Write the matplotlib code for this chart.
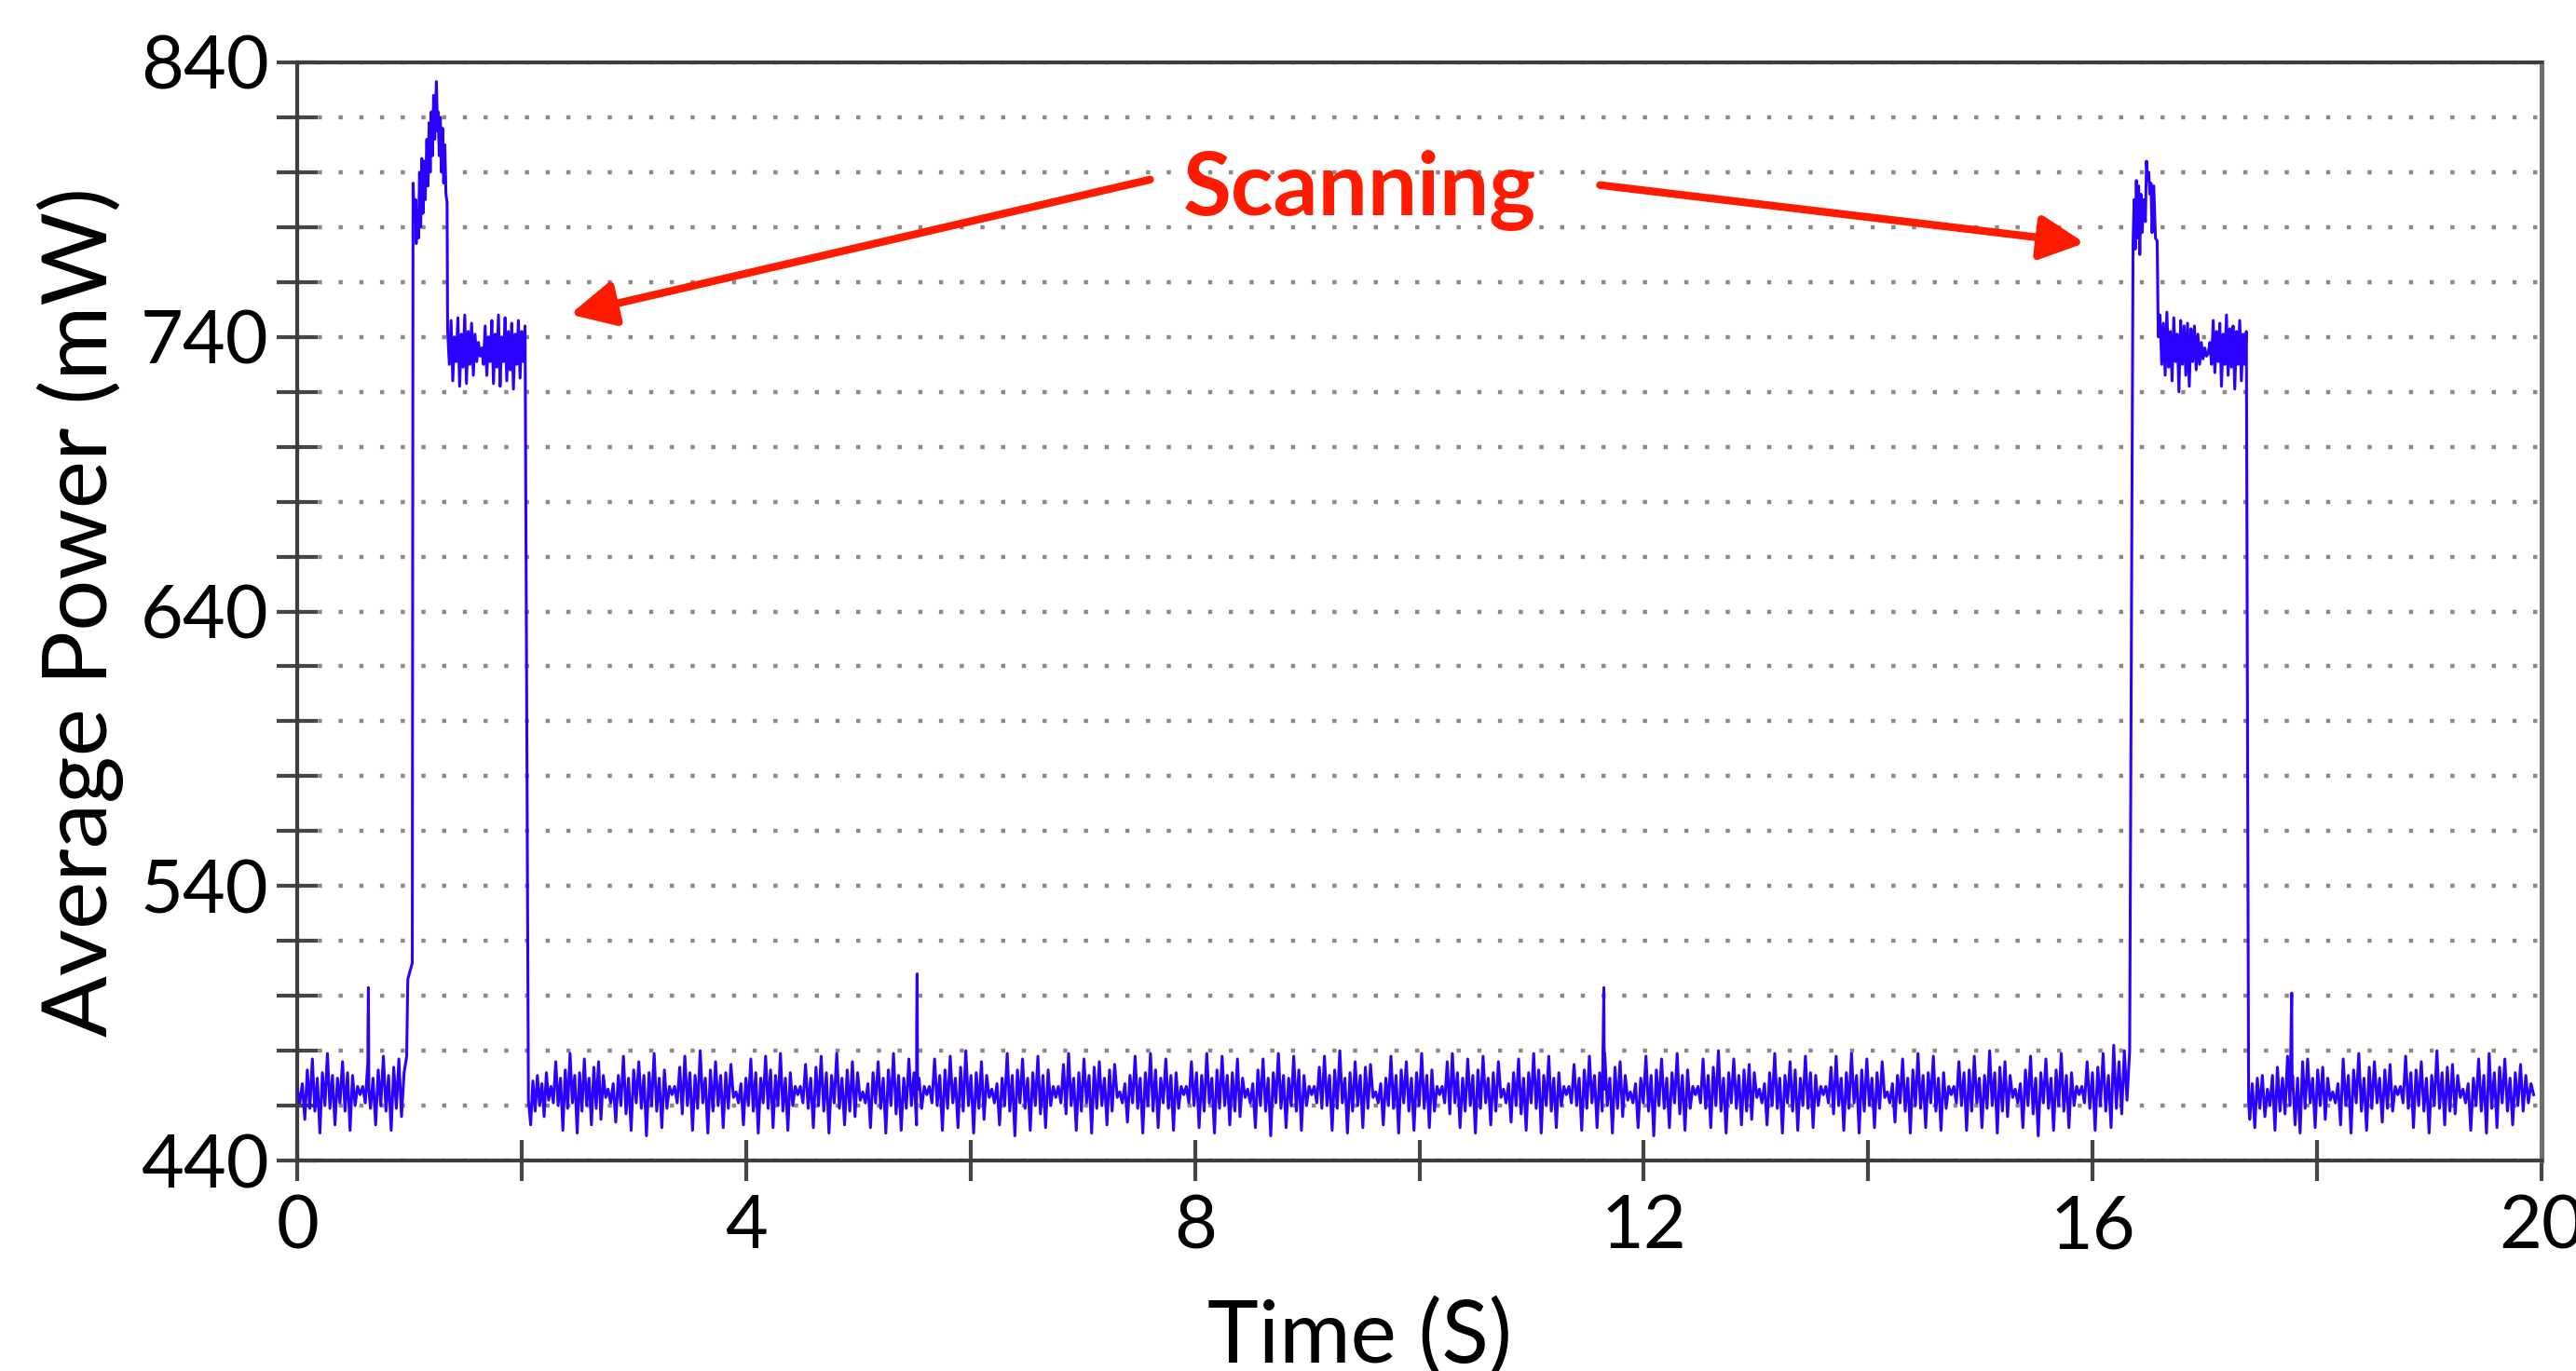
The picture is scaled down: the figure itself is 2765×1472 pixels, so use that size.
import numpy as np
import matplotlib
matplotlib.use("Agg")
import matplotlib.pyplot as plt

plt.rcParams['font.family'] = ['Lato', 'DejaVu Sans']

# ---- values ----
x_major = [0, 4, 8, 12, 16, 20]
x_minor = [2, 6, 10, 14, 18]
y_major = [440, 540, 640, 740, 840]
y_minor = [460, 480, 500, 520, 560, 580, 600, 620, 660, 680, 700, 720,
           760, 780, 800, 820]

# ripple bursts (and the two scanning plateaus): start s, end s, samples mW
burst_start = [0.00, 0.56, 1.34, 1.63, 2.08, 2.24, 2.77, 3.34, 3.91, 4.46,
               5.04, 5.61, 6.19, 6.76, 7.33, 7.90, 8.47, 9.04, 9.61, 10.18,
               10.75, 11.31, 11.88, 12.46, 13.03, 13.60, 14.17, 14.74, 15.31,
               15.88, 16.585, 17.03, 17.40, 17.58, 18.14, 18.72, 19.30]
burst_end = [0.56, 0.975, 1.63, 2.03, 2.24, 2.77, 3.34, 3.91, 4.46, 5.04,
             5.61, 6.19, 6.76, 7.33, 7.90, 8.47, 9.04, 9.61, 10.18, 10.75,
             11.31, 11.88, 12.46, 13.03, 13.60, 14.17, 14.74, 15.31, 15.88,
             16.33, 17.03, 17.37, 17.58, 18.14, 18.72, 19.30, 19.93]
burst_vals = [
    [466, 461, 468, 455, 473, 459, 477, 458, 470, 450, 472, 460, 479, 459, 471, 453, 470, 461, 476, 458, 472, 451, 471, 460, 467, 464],
    [464, 467, 461, 476, 459, 470, 453, 473, 460, 478, 458, 471, 451, 474, 459, 477, 456, 472, 478],
    [742, 730, 746, 724, 740, 731, 747, 722, 741, 729, 748, 723, 742, 730, 745, 726, 741, 731, 738, 733],
    [733, 736, 730, 744, 726, 740, 731, 746, 723, 741, 729, 748, 722, 740, 731, 747, 724, 742, 728, 745, 721, 741, 730, 746, 725, 742, 731, 744],
    [453, 469, 458, 471, 460, 468, 456, 472, 462],
    [462, 467, 461, 476, 460, 470, 451, 473, 459, 479, 461, 471, 450, 472, 458, 477, 460, 470, 453, 474, 459, 476, 455, 471, 463, 466],
    [466, 461, 468, 454, 471, 460, 478, 457, 470, 451, 473, 461, 476, 459, 471, 449, 472, 460, 479, 458, 470, 452, 473, 459, 467, 464],
    [464, 467, 461, 474, 457, 478, 460, 472, 451, 471, 459, 480, 461, 470, 450, 473, 458, 476, 460, 471, 452, 472, 459, 475, 463, 465],
    [465, 461, 468, 453, 470, 460, 477, 458, 472, 450, 470, 461, 478, 459, 473, 452, 471, 460, 479, 458, 470, 451, 472, 460, 467, 464],
    [464, 467, 461, 475, 459, 470, 452, 474, 460, 478, 458, 472, 450, 471, 461, 479, 459, 470, 453, 473, 458, 476, 456, 472, 462, 465],
    [465, 461, 468, 452, 472, 461, 476, 459, 470, 450, 473, 460, 479, 457, 471, 451, 470, 459, 477, 460, 472, 453, 470, 459, 467, 464],
    [464, 467, 461, 477, 460, 471, 451, 473, 459, 478, 461, 470, 452, 474, 458, 480, 460, 471, 450, 472, 459, 476, 455, 471, 463, 466],
    [466, 461, 468, 453, 470, 460, 479, 458, 471, 449, 473, 461, 477, 459, 470, 451, 472, 460, 478, 457, 471, 452, 473, 460, 467, 463],
    [463, 467, 461, 475, 457, 479, 460, 470, 451, 472, 458, 477, 461, 471, 450, 474, 459, 476, 460, 470, 453, 473, 458, 475, 463, 465],
    [465, 461, 468, 454, 471, 461, 478, 459, 470, 450, 472, 460, 479, 458, 473, 452, 470, 461, 477, 459, 471, 451, 472, 459, 467, 464],
    [464, 467, 461, 476, 460, 472, 452, 471, 458, 479, 461, 470, 450, 473, 459, 478, 460, 471, 453, 472, 458, 477, 456, 470, 463, 466],
    [466, 461, 468, 452, 473, 460, 477, 458, 470, 449, 472, 461, 479, 459, 471, 452, 470, 460, 478, 458, 473, 451, 471, 460, 467, 464],
    [464, 467, 461, 474, 459, 478, 460, 471, 451, 473, 459, 480, 461, 470, 450, 472, 458, 476, 460, 471, 452, 474, 459, 475, 463, 465],
    [465, 461, 468, 453, 470, 460, 478, 459, 471, 450, 473, 461, 476, 458, 470, 451, 472, 460, 479, 459, 471, 452, 473, 458, 467, 464],
    [464, 467, 461, 476, 457, 479, 461, 472, 452, 470, 458, 477, 460, 471, 450, 473, 459, 478, 461, 470, 453, 472, 458, 476, 463, 466],
    [466, 461, 468, 454, 472, 460, 477, 457, 470, 451, 472, 461, 479, 459, 473, 450, 471, 460, 478, 458, 470, 452, 472, 460, 467, 464],
    [464, 467, 461, 475, 460, 470, 451, 473, 459, 478, 461, 471, 452, 472, 458, 479, 460, 470, 450, 474, 459, 476, 456, 471, 462, 465],
    [465, 461, 468, 452, 470, 461, 478, 458, 471, 449, 473, 460, 477, 459, 470, 452, 472, 461, 479, 457, 471, 451, 473, 459, 467, 464],
    [464, 467, 461, 477, 459, 471, 452, 474, 460, 480, 458, 470, 450, 472, 461, 477, 459, 471, 453, 473, 458, 475, 455, 472, 463, 466],
    [466, 461, 468, 453, 472, 460, 479, 459, 470, 450, 471, 461, 476, 458, 473, 451, 470, 460, 478, 459, 472, 452, 471, 460, 467, 464],
    [464, 467, 461, 474, 457, 478, 460, 470, 451, 472, 459, 479, 461, 471, 450, 473, 458, 477, 460, 470, 452, 472, 459, 476, 463, 465],
    [465, 461, 468, 454, 471, 461, 477, 458, 470, 450, 473, 460, 479, 459, 471, 452, 472, 461, 478, 458, 470, 451, 472, 459, 467, 464],
    [464, 467, 461, 476, 460, 472, 451, 473, 458, 478, 461, 470, 452, 471, 459, 480, 460, 472, 450, 474, 458, 476, 456, 471, 463, 466],
    [466, 461, 468, 452, 473, 460, 478, 457, 470, 449, 472, 461, 477, 459, 470, 451, 473, 460, 479, 458, 471, 452, 472, 460, 467, 464],
    [464, 467, 461, 476, 459, 472, 451, 474, 460, 479, 458, 471, 452, 482, 459, 476, 457, 480, 462, 480],
    [740, 748, 730, 745, 726, 749, 729, 742, 724, 747, 731, 741, 720, 746, 730, 744, 726, 745, 722, 743, 731, 744, 728, 741, 730, 738, 732, 736, 733, 734],
    [734, 738, 730, 746, 727, 742, 731, 745, 722, 741, 730, 748, 726, 743, 729, 744, 721, 742, 730, 746, 724, 741, 730, 742],
    [455, 468, 452, 470, 459, 471, 456, 466, 460],
    [460, 471, 451, 474, 458, 470, 457, 478, 460, 471, 453, 470, 450, 476, 459, 477, 461, 470, 452, 473, 460, 474, 455, 470, 462, 465],
    [465, 461, 468, 453, 477, 460, 471, 450, 473, 461, 479, 458, 470, 451, 474, 459, 476, 461, 470, 454, 473, 459, 475, 458, 467, 464],
    [464, 467, 461, 478, 459, 472, 452, 473, 460, 476, 458, 470, 450, 471, 460, 480, 459, 472, 453, 474, 458, 475, 457, 471, 463, 466],
    [466, 461, 468, 451, 470, 460, 477, 458, 471, 450, 479, 459, 472, 452, 474, 461, 477, 458, 470, 453, 472, 460, 475, 458, 471, 461, 468, 464],
]

# rise + overshoot of each scan
scan1_t = [0.985, 1.025, 1.032, 1.045, 1.055, 1.060, 1.070, 1.080, 1.090, 1.100,
           1.110, 1.120, 1.130, 1.140, 1.155, 1.165, 1.175, 1.185, 1.195, 1.205,
           1.215, 1.225, 1.240, 1.250, 1.255, 1.265, 1.275, 1.285, 1.295, 1.305,
           1.315, 1.325, 1.335]
scan1_p = [506, 512, 796, 782, 790, 774, 786, 776, 800, 780,
           805, 785, 804, 790, 812, 795, 818, 800, 822, 806,
           828, 812, 833, 815, 822, 806, 820, 800, 816, 796,
           810, 792, 789]
scan2_t = [16.36, 16.37, 16.38, 16.39, 16.40, 16.41, 16.42, 16.43, 16.44, 16.455,
           16.47, 16.48, 16.49, 16.50, 16.51, 16.52, 16.53, 16.545, 16.56, 16.575]
scan2_p = [774, 790, 772, 797, 776, 795, 770, 792, 778, 790,
           782, 804, 797, 800, 792, 796, 778, 795, 776, 775]
fall_t = [2.06, 17.39]
fall_p = [462, 462]

# narrow spikes on the baseline
spike_t = [0.63, 5.52, 11.64, 17.77]
spike_step = [487, 490, 492, 492]
spike_peak = [503, 508, 503, 501]

RED = '#ff1a00'
BLUE = '#2c00ff'


def build_trace():
    t_parts = []
    p_parts = []
    for s, e, v in zip(burst_start, burst_end, burst_vals):
        t_parts.append(np.linspace(s, e, len(v)))
        p_parts.append(np.asarray(v, dtype=float))
    for tt, pp in [(scan1_t, scan1_p), (scan2_t, scan2_p), (fall_t, fall_p)]:
        t_parts.append(np.asarray(tt, dtype=float))
        p_parts.append(np.asarray(pp, dtype=float))
    for st, ss, sp in zip(spike_t, spike_step, spike_peak):
        t_parts.append(np.array([st, st + 0.004, st + 0.008]))
        p_parts.append(np.array([ss, sp, 466.0]))
    t = np.concatenate(t_parts)
    p = np.concatenate(p_parts)
    order = np.argsort(t, kind='stable')
    return t[order], p[order]


fig = plt.figure(figsize=(27.65, 14.72), dpi=100)
ax = fig.add_axes([0.1154, 0.1535, 0.8712, 0.8010])

t, p = build_trace()
ax.plot(t, p, color=BLUE, lw=2.2, zorder=3)

ax.set_xlim(0, 20)
ax.set_ylim(440, 840)
ax.set_xticks(x_major)
ax.set_xticks(x_minor, minor=True)
ax.set_yticks(y_major)
ax.set_yticks(y_minor, minor=True)

ax.tick_params(which='both', direction='inout', length=32, width=3.0,
               color='#454545')
ax.tick_params(axis='y', labelsize=57, pad=6)
ax.tick_params(axis='x', labelsize=57, pad=10)

ax.yaxis.grid(True, which='both', linestyle=(0, (1.0, 4.0)),
              linewidth=3.2, color='#8a8a8a')
ax.set_axisbelow(True)

for side in ['left', 'top', 'bottom']:
    ax.spines[side].set_color('#3d3d3d')
    ax.spines[side].set_linewidth(3.0)
ax.spines['right'].set_color('#6e6e6e')
ax.spines['right'].set_linewidth(3.6)

ax.set_xlabel('Time (S)', fontsize=67)
ax.xaxis.label.set_va('baseline')
ax.xaxis.set_label_coords(0.4736, -0.184)
ax.set_ylabel('Average Power (mW)', fontsize=70)
ax.yaxis.label.set_va('baseline')
ax.yaxis.set_label_coords(-0.0847, 0.5)

ax.text(9.47, 784.4, 'Scanning', color=RED, fontsize=68, fontweight='bold',
        ha='center', va='baseline', zorder=5)
arrow = dict(arrowstyle='-|>', color=RED, lw=6.0, mutation_scale=72,
             shrinkA=0, shrinkB=0)
ax.annotate('', xy=(2.43, 748.2), xytext=(7.60, 797.3), arrowprops=arrow,
            zorder=5)
ax.annotate('', xy=(15.93, 774.2), xytext=(11.61, 795.3), arrowprops=arrow,
            zorder=5)

fig.savefig('out.png', dpi=100)
